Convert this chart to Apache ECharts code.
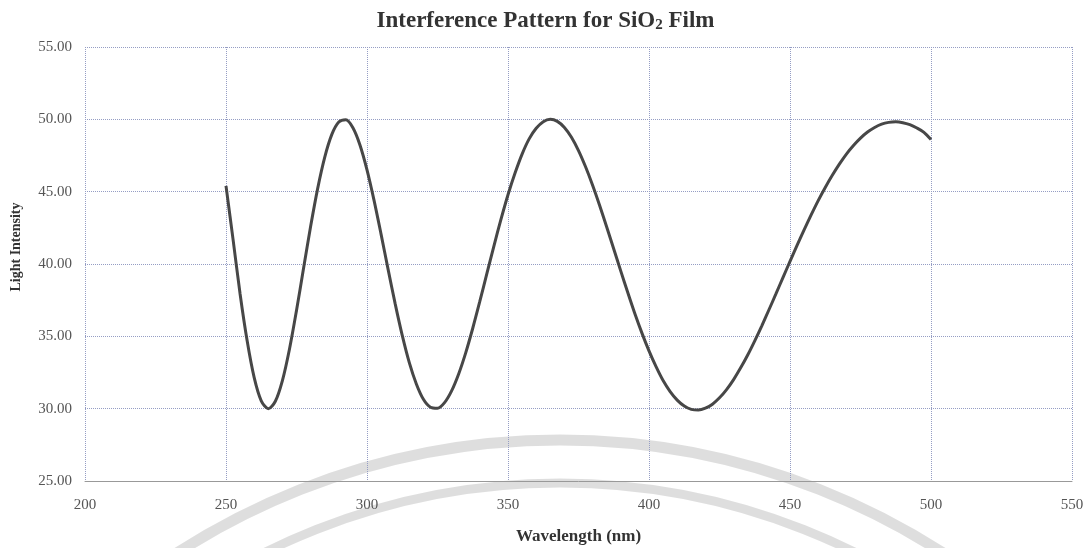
<!DOCTYPE html>
<html>
<head>
<meta charset="utf-8">
<script src="https://cdn.jsdelivr.net/npm/echarts@6/dist/echarts.min.js"></script>
<style>html,body{margin:0;padding:0;background:#fff;}#c{width:1091px;height:548px;}</style>
</head>
<body>
<div id="c"></div>
<script>
// Wavelength (nm), every 2.5 nm
var wavelengths = [250,252.5,255,257.5,260,262.5,265,267.5,270,272.5,275,277.5,280,282.5,285,287.5,290,292.5,295,297.5,300,302.5,305,307.5,310,312.5,315,317.5,320,322.5,325,327.5,330,332.5,335,337.5,340,342.5,345,347.5,350,352.5,355,357.5,360,362.5,365,367.5,370,372.5,375,377.5,380,382.5,385,387.5,390,392.5,395,397.5,400,402.5,405,407.5,410,412.5,415,417.5,420,422.5,425,427.5,430,432.5,435,437.5,440,442.5,445,447.5,450,452.5,455,457.5,460,462.5,465,467.5,470,472.5,475,477.5,480,482.5,485,487.5,490,492.5,495,497.5,500];
// Light intensity
var intensities = [45.40,41.70,37.93,34.69,32.14,30.54,30.00,30.51,31.94,34.11,36.79,39.70,42.59,45.21,47.37,48.94,49.81,49.97,49.42,48.23,46.51,44.40,42.05,39.61,37.24,35.06,33.18,31.71,30.65,30.10,30.03,30.42,31.23,32.40,33.86,35.56,37.41,39.33,41.24,43.08,44.79,46.29,47.60,48.65,49.38,49.84,50.00,49.86,49.44,48.76,47.84,46.72,45.45,44.05,42.56,41.04,39.51,38.01,36.56,35.22,33.99,32.90,31.94,31.18,30.59,30.18,29.95,29.90,30.03,30.31,30.75,31.32,32.01,32.82,33.71,34.69,35.73,36.82,37.93,39.06,40.18,41.28,42.36,43.39,44.38,45.29,46.13,46.90,47.60,48.19,48.70,49.12,49.44,49.67,49.79,49.83,49.77,49.63,49.40,49.10,48.60];
var xTicks = [200,250,300,350,400,450,500,550];
var yTicks = [25,30,35,40,45,50,55];

var points = wavelengths.map(function(w,i){return [w,intensities[i]];});
var serif = '"Liberation Serif","Times New Roman",serif';
var gridColor = '#959dc4';

var chart = echarts.init(document.getElementById('c'));
chart.setOption({
  backgroundColor:'#fff',
  animation:false,
  title:{
    text:'{a|Interference Pattern for SiO}{s|2}{a| Film}',
    left:'center', top:3, padding:[0,5,0,5],
    textStyle:{
      rich:{
        a:{fontFamily:serif,fontWeight:'bold',fontSize:23,color:'#333',lineHeight:30,verticalAlign:'bottom'},
        s:{fontFamily:serif,fontWeight:'bold',fontSize:15,color:'#333',lineHeight:14,verticalAlign:'bottom'}
      }
    }
  },
  graphic:[
    {type:'circle',silent:true,z:-10,shape:{cx:560,cy:1145,r:705},style:{fill:'none',stroke:'rgba(0,0,0,0.13)',lineWidth:11}},
    {type:'circle',silent:true,z:-10,shape:{cx:560,cy:1145,r:662},style:{fill:'none',stroke:'rgba(0,0,0,0.13)',lineWidth:9}}
  ],
  grid:{left:85,right:19,top:47,bottom:67,containLabel:false,outerBoundsMode:'none'},
  xAxis:{
    type:'value', min:xTicks[0], max:xTicks[xTicks.length-1], interval:50,
    name:'Wavelength (nm)', nameLocation:'middle', nameGap:47,
    nameTextStyle:{fontFamily:serif,fontWeight:'bold',fontSize:17,color:'#333'},
    axisLine:{show:true,lineStyle:{color:'#999',width:1}},
    axisTick:{show:false},
    axisLabel:{fontFamily:serif,fontSize:15,color:'#555',margin:17},
    splitLine:{show:true,lineStyle:{color:gridColor,type:'dotted',width:1}}
  },
  yAxis:{
    type:'value', min:yTicks[0], max:yTicks[yTicks.length-1], interval:5,
    name:'Light Intensity', nameLocation:'middle', nameGap:62, nameRotate:90,
    nameTextStyle:{fontFamily:serif,fontWeight:'bold',fontSize:14,color:'#333',padding:[0,0,0,34]},
    axisLine:{show:false},
    axisTick:{show:false},
    axisLabel:{fontFamily:serif,fontSize:15,color:'#555',margin:13,formatter:function(v){return v.toFixed(2);}},
    splitLine:{show:true,lineStyle:{color:gridColor,type:'dotted',width:1}}
  },
  series:[{
    type:'line', data:points, smooth:0.3, showSymbol:false, symbol:'none',
    lineStyle:{color:'#474747',width:3},
    z:5
  }]
});
</script>
</body>
</html>
